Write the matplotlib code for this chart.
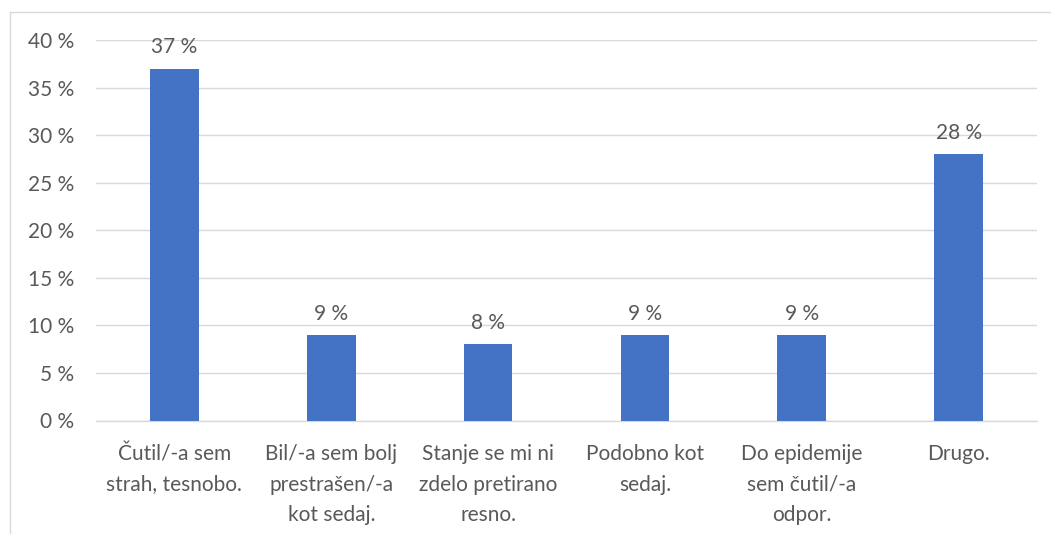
import matplotlib
matplotlib.use("Agg")
import matplotlib.pyplot as plt
from matplotlib.lines import Line2D

categories = [
    "Čutil/-a sem\nstrah, tesnobo.",
    "Bil/-a sem bolj\nprestrašen/-a\nkot sedaj.",
    "Stanje se mi ni\nzdelo pretirano\nresno.",
    "Podobno kot\nsedaj.",
    "Do epidemije\nsem čutil/-a\nodpor.",
    "Drugo.",
]
values = [37, 9, 8, 9, 9, 28]
yticks = [0, 5, 10, 15, 20, 25, 30, 35, 40]

plt.rcParams['font.family'] = ['Lato', 'DejaVu Sans']
TXT = '#595959'
FS = 15

fig = plt.figure(figsize=(10.51, 5.34), dpi=100)
ax = fig.add_axes([96/1051, 1 - 420.5/534, (1037-96)/1051, (420.5-40)/534])

x = list(range(len(categories)))
bars = ax.bar(x, values, width=0.31, color='#4472C4', zorder=3)
for xi, v in zip(x, values):
    ax.annotate(f"{v} %", (xi, v), xytext=(0, 8), textcoords='offset points',
                ha='center', va='bottom', fontsize=FS, color=TXT)

ax.set_xlim(-0.5, len(categories) - 0.5)
ax.set_ylim(0, 40)
ax.set_yticks(yticks)
ax.set_yticklabels([f"{t} %" for t in yticks], fontsize=FS, color=TXT)
ax.set_xticks(x)
ax.set_xticklabels(categories, fontsize=FS, color=TXT, linespacing=1.65)
ax.tick_params(axis='both', length=0)
ax.tick_params(axis='y', pad=16)
ax.tick_params(axis='x', pad=17)
ax.grid(axis='y', color='#D9D9D9', linewidth=1, zorder=0)
for s in ['top', 'right', 'left']:
    ax.spines[s].set_visible(False)
ax.spines['bottom'].set_color('#D9D9D9')
ax.spines['bottom'].set_linewidth(1)

# outer chart frame (partially cropped)
fig.add_artist(Line2D([9.5/1051, 1], [1 - 11.5/534, 1 - 11.5/534],
                      transform=fig.transFigure, color='#D9D9D9', lw=1))
fig.add_artist(Line2D([9.5/1051, 9.5/1051], [0, 1 - 11.5/534],
                      transform=fig.transFigure, color='#D9D9D9', lw=1))

fig.savefig("out.png", dpi=100)
